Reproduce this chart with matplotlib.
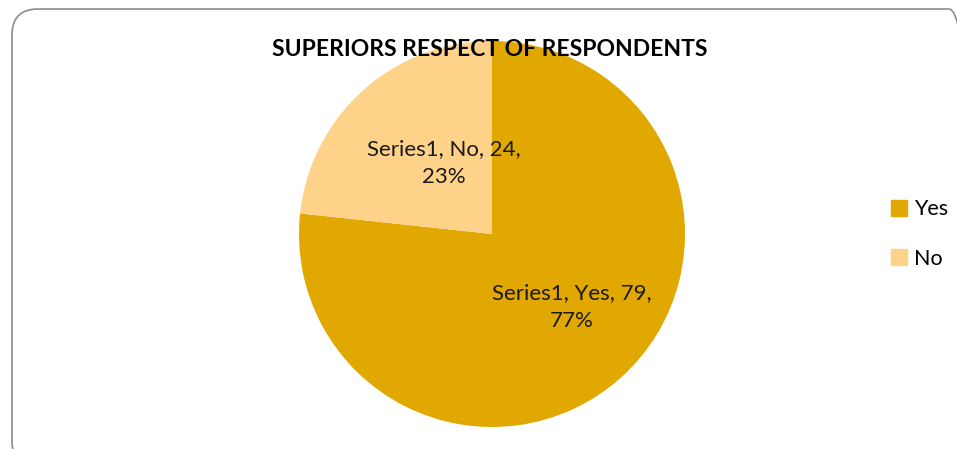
import matplotlib
matplotlib.use("agg")
import matplotlib.pyplot as plt
from matplotlib.patches import FancyBboxPatch
from matplotlib.lines import Line2D

categories = ["Yes", "No"]
counts = [79, 24]
percents = [77, 23]
colors = ["#E0A800", "#FFD28A"]
title = "SUPERIORS RESPECT OF RESPONDENTS"

plt.rcParams["font.family"] = ["Lato", "DejaVu Sans"]

fig = plt.figure(figsize=(9.57, 4.49), dpi=100)

# rounded chart frame (runs off the right/bottom edge like the screenshot)
frame = FancyBboxPatch((12 / 957, -18 / 449), 963 / 957, 458 / 449,
                       boxstyle="round,pad=0,rounding_size=%f" % (26 / 957),
                       transform=fig.transFigure, facecolor="none",
                       edgecolor="#8c8c8c", linewidth=1.2,
                       mutation_aspect=957 / 449, zorder=-1)
fig.patches.append(frame)

ax = fig.add_axes([299 / 957, 22 / 449, 386 / 957, 386 / 449])
ax.pie(counts, colors=colors, startangle=90, counterclock=False,
       wedgeprops=dict(linewidth=0))
ax.set_xlim(-1, 1)
ax.set_ylim(-1, 1)
ax.set_aspect("equal")
ax.axis("off")

label_pos = {"Yes": (0.415, -0.378), "No": (-0.249, 0.368)}
for cat, n, p in zip(categories, counts, percents):
    x, y = label_pos[cat]
    ax.text(x, y, f"Series1, {cat}, {n},\n{p}%", ha="center", va="center",
            fontsize=16, color="#1a1a1a", linespacing=1.45)

fig.text(490 / 957, 1 - 50 / 449, title, ha="center", va="center",
         fontsize=16.5, fontweight="bold", color="black", zorder=5)

handles = [Line2D([], [], marker="s", linestyle="none", markersize=11,
                  markerfacecolor=c, markeredgecolor=c) for c in colors]
fig.legend(handles, categories, loc="center left",
           bbox_to_anchor=(880 / 957, 1 - 234 / 449), frameon=False,
           fontsize=15.5, handletextpad=0.2, labelspacing=1.35,
           handlelength=1.0, borderaxespad=0)

fig.savefig("out.png", dpi=100)
